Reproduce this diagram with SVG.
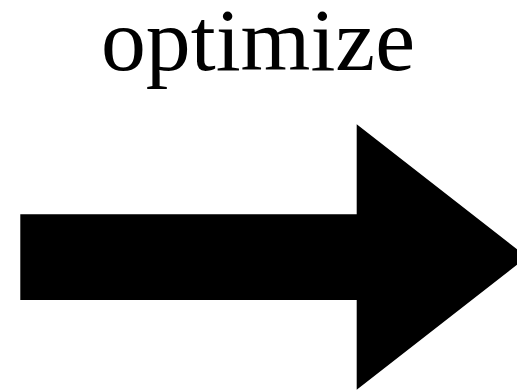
<svg xmlns="http://www.w3.org/2000/svg" width="517" height="390" viewBox="0 0 517 390">
<style>
.lbl{font-family:"Liberation Serif","DejaVu Serif",serif;font-size:88px;fill:#000}
.arrow{fill:#000;stroke:none}
</style>
<rect width="517" height="390" fill="#fff"/>
<g id="label">
<text class="lbl" x="101" y="70" textLength="314" lengthAdjust="spacingAndGlyphs">optimize</text>
</g>
<g id="connectors">
<polygon class="arrow" points="20.3,214.3 356.7,214.3 356.7,124.3 527,257 356.7,389.7 356.7,300 20.3,300"/>
</g>
</svg>
